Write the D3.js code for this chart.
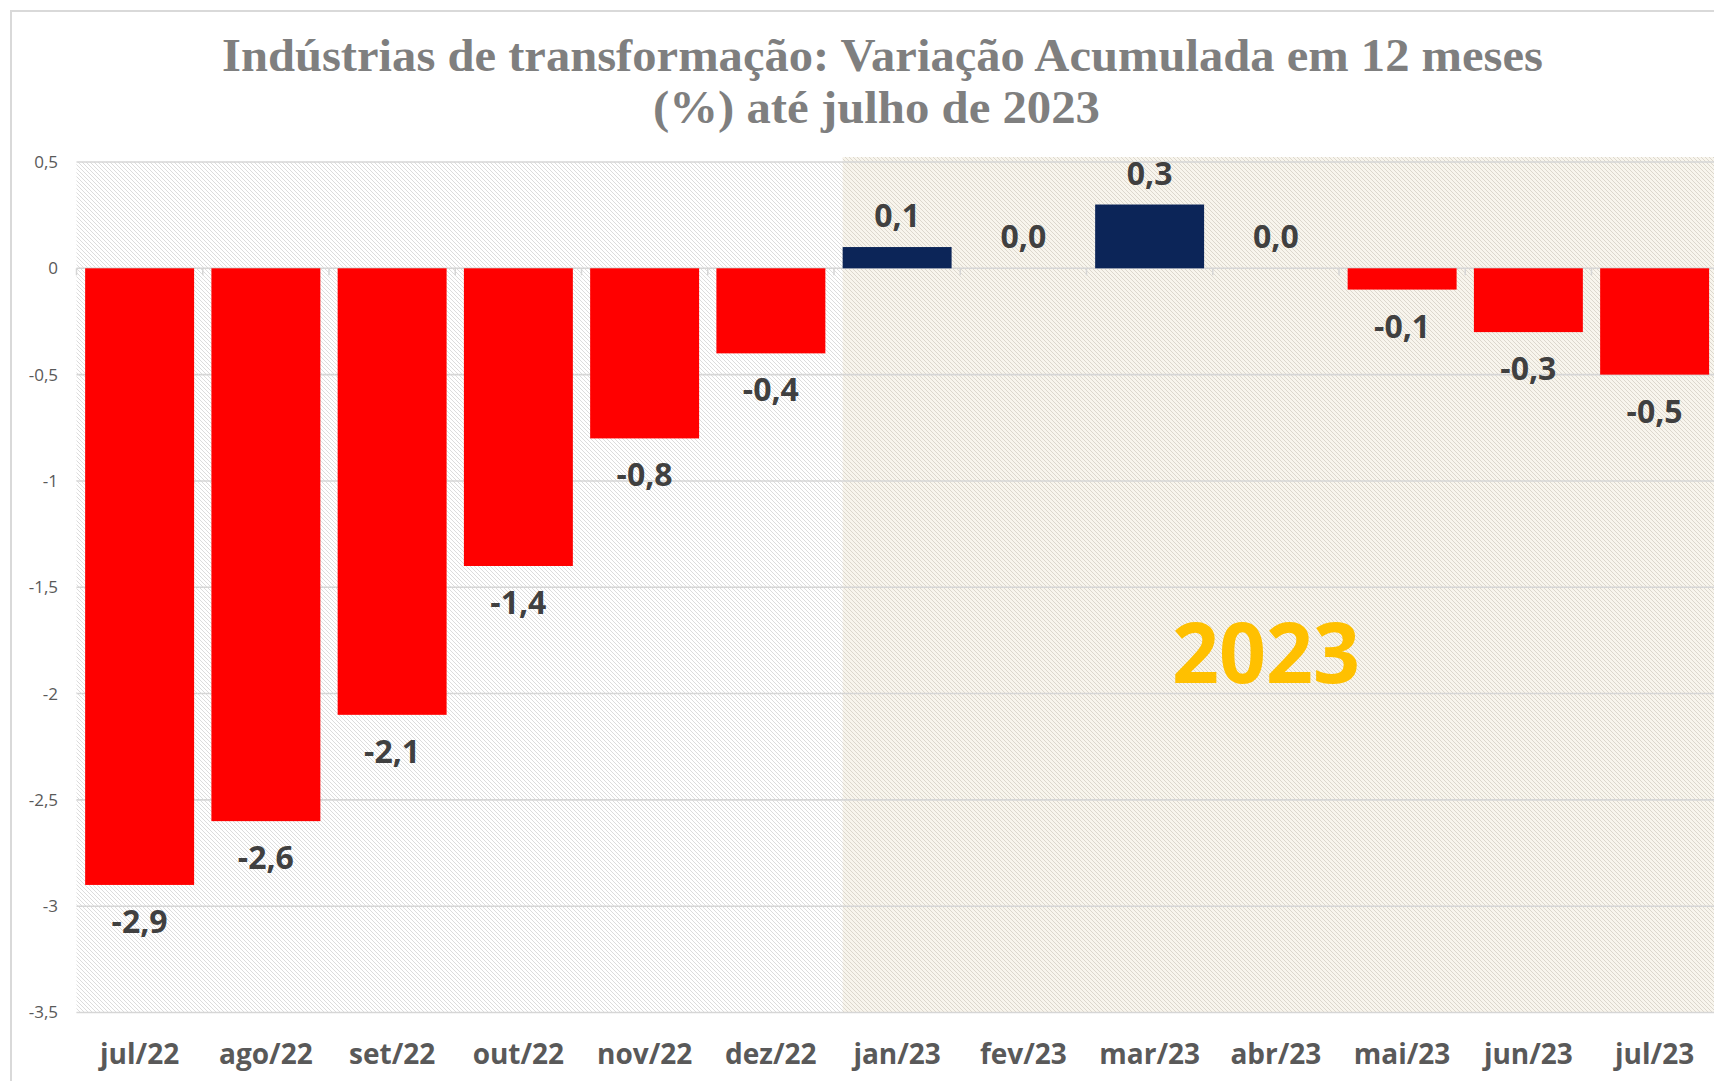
<!DOCTYPE html>
<html lang="pt-BR">
<head>
<meta charset="utf-8">
<script src="https://cdn.jsdelivr.net/npm/d3@7"></script>
<style>
  html, body { margin: 0; padding: 0; background: #ffffff; }
  svg { display: block; }
</style>
</head>
<body>
<svg id="chart" width="1714" height="1081"></svg>
<script>
// Produção das indústrias de transformação — variação acumulada em 12 meses (%)
const categories = ["jul/22", "ago/22", "set/22", "out/22", "nov/22", "dez/22",
                    "jan/23", "fev/23", "mar/23", "abr/23", "mai/23", "jun/23", "jul/23"];
const values = [-2.9, -2.6, -2.1, -1.4, -0.8, -0.4, 0.1, 0.0, 0.3, 0.0, -0.1, -0.3, -0.5];
const yTicks = [0.5, 0, -0.5, -1, -1.5, -2, -2.5, -3, -3.5];
const titleLines = ["Indústrias de transformação: Variação Acumulada em 12 meses",
                    "(%) até julho de 2023"];
const highlightStart = "jan/23";
const highlightLabel = "2023";

const fmt = v => d3.format(".1f")(v).replace("−", "-").replace(".", ",");
const fmtTick = v => String(v).replace(".", ",");

const svg = d3.select("#chart");
const W = 1714, H = 1081;
const plot = { left: 76.5, top: 162, bottom: 1012.5 };

const pi = 0.137;
const x = d3.scaleBand()
  .domain(categories)
  .range([plot.left, plot.left + 13 * 126.25])
  .paddingInner(pi)
  .paddingOuter(pi / 2);
const step = x.step();

const y = d3.scaleLinear().domain([-3.5, 0.5]).range([plot.bottom, plot.top]);

// hatch fills
const defs = svg.append("defs");
function hatch(id, bg, fg) {
  const p = defs.append("pattern")
    .attr("id", id)
    .attr("patternUnits", "userSpaceOnUse")
    .attr("width", 4).attr("height", 4);
  p.append("rect").attr("width", 4).attr("height", 4).attr("fill", bg);
  p.append("path")
    .attr("d", "M-1,-1 L5,5 M-1,3 L1,5 M3,-1 L5,1")
    .attr("stroke", fg).attr("stroke-width", 1);
}
hatch("hatchGray", "#ffffff", "#dcdcdc");
hatch("hatchBeige", "#f8f5ed", "#dcd7cd");

// outer chart frame
svg.append("rect")
  .attr("x", 11).attr("y", 11)
  .attr("width", W + 20).attr("height", H + 20)
  .attr("fill", "none").attr("stroke", "#d9d9d9").attr("stroke-width", 2);

// plot background
svg.append("rect")
  .attr("x", plot.left).attr("y", plot.top)
  .attr("width", W - plot.left).attr("height", plot.bottom - plot.top)
  .attr("fill", "url(#hatchGray)");

// 2023 highlight panel
const hx = x(highlightStart);
svg.append("rect")
  .attr("x", hx).attr("y", plot.top - 5)
  .attr("width", W - hx).attr("height", plot.bottom - plot.top + 5)
  .attr("fill", "url(#hatchBeige)");

// gridlines
svg.append("g")
  .selectAll("line")
  .data(yTicks)
  .join("line")
  .attr("x1", plot.left).attr("x2", W)
  .attr("y1", d => y(d)).attr("y2", d => y(d))
  .attr("stroke", "#d6d6d6").attr("stroke-width", 1.6);

// category tick marks below the zero line
svg.append("g")
  .selectAll("line")
  .data(categories)
  .join("line")
  .attr("x1", d => x(d) - pi * step / 2).attr("x2", d => x(d) - pi * step / 2)
  .attr("y1", y(0)).attr("y2", y(0) + 7)
  .attr("stroke", "#d6d6d6").attr("stroke-width", 1.5);

// y-axis labels
svg.append("g")
  .selectAll("text")
  .data(yTicks)
  .join("text")
  .attr("x", 58).attr("y", d => y(d))
  .attr("dy", "0.35em")
  .attr("text-anchor", "end")
  .attr("font-family", "'Open Sans', sans-serif")
  .attr("font-size", 17)
  .attr("fill", "#595959")
  .text(fmtTick);

// "2023" annotation
svg.append("text")
  .attr("x", 1266).attr("y", 683)
  .attr("text-anchor", "middle")
  .attr("font-family", "'Open Sans', sans-serif")
  .attr("font-weight", 700)
  .attr("font-size", 84)
  .attr("fill", "#ffc000")
  .attr("textLength", 188)
  .attr("lengthAdjust", "spacingAndGlyphs")
  .text(highlightLabel);

// bars
const data = categories.map((c, i) => ({ c, v: values[i] }));
svg.append("g")
  .selectAll("rect")
  .data(data.filter(d => d.v !== 0))
  .join("rect")
  .attr("x", d => x(d.c))
  .attr("width", x.bandwidth())
  .attr("y", d => y(Math.max(0, d.v)))
  .attr("height", d => Math.abs(y(d.v) - y(0)))
  .attr("fill", d => d.v < 0 ? "#ff0000" : "#0c2558");

// value labels
svg.append("g")
  .selectAll("text")
  .data(data)
  .join("text")
  .attr("x", d => x(d.c) + x.bandwidth() / 2)
  .attr("y", d => d.v < 0 ? y(d.v) + 48 : y(d.v) - 20)
  .attr("text-anchor", "middle")
  .attr("font-family", "'Open Sans', sans-serif")
  .attr("font-weight", 700)
  .attr("font-size", 32)
  .attr("fill", "#404040")
  .text(d => fmt(d.v));

// x-axis labels
svg.append("g")
  .selectAll("text")
  .data(categories)
  .join("text")
  .attr("x", d => x(d) + x.bandwidth() / 2)
  .attr("y", 1064)
  .attr("text-anchor", "middle")
  .attr("font-family", "'Open Sans', sans-serif")
  .attr("font-weight", 700)
  .attr("font-size", 28)
  .attr("fill", "#595959")
  .text(d => d);

// title
const titleSpec = [
  { text: titleLines[0], x: 882.5, y: 71, len: 1321 },
  { text: titleLines[1], x: 876.5, y: 123, len: 447 }
];
svg.append("g")
  .selectAll("text")
  .data(titleSpec)
  .join("text")
  .attr("x", d => d.x).attr("y", d => d.y)
  .attr("text-anchor", "middle")
  .attr("font-family", "'Liberation Serif', serif")
  .attr("font-weight", 700)
  .attr("font-size", 46)
  .attr("fill", "#7f7f7f")
  .attr("textLength", d => d.len)
  .attr("lengthAdjust", "spacingAndGlyphs")
  .text(d => d.text);
</script>
</body>
</html>
